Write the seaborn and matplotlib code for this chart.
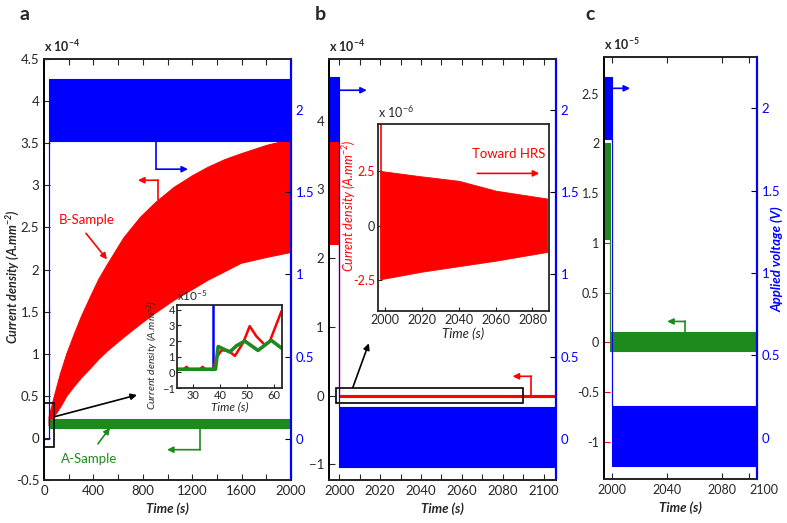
import matplotlib
matplotlib.use("Agg")
import matplotlib.pyplot as plt
import seaborn as sns
from matplotlib.patches import Rectangle

sns.set_style("ticks")
plt.rcParams["font.family"] = ["Lato", "DejaVu Sans"]
plt.rcParams["mathtext.default"] = "regular"
plt.rcParams["xtick.direction"] = "in"
plt.rcParams["ytick.direction"] = "in"
plt.rcParams["axes.linewidth"] = 1.3

RED = "#ff0000"
BLUE = "#0000ff"
GREEN = "#1e8a1e"

# ---- panel a: envelopes (x1e-4 A/mm2, V) ----
a_red_t = [37, 80, 130, 180, 237, 300, 372, 440, 512, 642, 780, 900, 1049,
           1200, 1325, 1460, 1593, 1800, 2000]
a_red_hi = [0.25, 0.5, 0.77, 1.0, 1.22, 1.45, 1.68, 1.89, 2.07, 2.38, 2.63,
            2.8, 2.98, 3.12, 3.22, 3.31, 3.38, 3.48, 3.55]
a_red_lo = [0.15, 0.26, 0.37, 0.5, 0.61, 0.72, 0.83, 0.94, 1.04, 1.2, 1.36,
            1.49, 1.64, 1.77, 1.88, 1.98, 2.08, 2.15, 2.21]
a_green_t = [37, 2000]
a_green_hi = [0.22, 0.22]
a_green_lo = [0.12, 0.12]
a_volt_t = [0, 37, 37, 2000]
a_volt_hi = [0, 0, 2.19, 2.19]
a_volt_lo = [0, 0, 1.81, 1.81]

# inset of a (x1e-5)
ins_a_red_t = [24, 26.5, 27.5, 28.5, 32.5, 33.5, 34.5, 37.2, 38.9, 40.5, 43, 45.5, 48.6, 51, 53.5, 56.6, 58.5, 62.8]
ins_a_red_v = [0.2, 0.2, 0.35, 0.2, 0.2, 0.35, 0.2, 0.15, 1.0, 1.4, 1.4, 1.05, 1.9, 2.95, 2.3, 1.75, 2.0, 3.9]
ins_a_green_t = [24, 38.3, 39.3, 43.6, 46.1, 49.2, 54.1, 59, 62.8]
ins_a_green_v = [0.2, 0.2, 1.65, 1.3, 1.7, 2.0, 1.4, 2.05, 1.55]
ins_a_blue_t = [24, 37.5, 37.5]
ins_a_blue_v = [0.2, 0.2, 5.0]

# ---- panel b ----
b_red_t = [1995, 2000, 2000, 2106]
b_red_hi = [3.72, 3.72, 0.015, 0.015]
b_red_lo = [2.21, 2.21, -0.015, -0.015]
b_volt_t = [1995, 2000, 2000, 2106]
b_volt_hi = [2.2, 2.2, 0.195, 0.195]
b_volt_lo = [1.81, 1.81, -0.17, -0.17]

# inset of b (x1e-6)
ins_b_t = [1997.3, 2020, 2040, 2060, 2088]
ins_b_hi = [2.5, 2.25, 2.05, 1.6, 1.24]
ins_b_lo = [-2.45, -2.1, -1.85, -1.6, -1.2]
ins_b_spike_t = 1997.6

# ---- panel c (x1e-5) ----
c_green_t = [1994, 1998.5, 1998.5, 2106]
c_green_hi = [2.01, 2.01, 0.1, 0.1]
c_green_lo = [1.04, 1.04, -0.09, -0.09]
c_volt_t = [1994, 2000, 2000, 2106]
c_volt_hi = [2.19, 2.19, 0.195, 0.195]
c_volt_lo = [1.81, 1.81, -0.17, -0.17]

volt_ticks = [0, 0.5, 1, 1.5, 2]
volt_lim = (-0.25, 2.31)

fig = plt.figure(figsize=(7.87, 5.23), dpi=100)


def fmt(v):
    return f"{v:g}"


def right_axis(ax):
    ax2 = ax.twinx()
    ax2.set_ylim(*volt_lim)
    ax2.set_yticks(volt_ticks)
    ax2.set_yticklabels([fmt(v) for v in volt_ticks])
    ax2.tick_params(axis="y", direction="in", labelcolor=BLUE, color="black",
                    labelsize=9.5, length=4)
    ax2.spines["right"].set_color(BLUE)
    ax2.spines["right"].set_linewidth(1.6)
    ax2.spines["left"].set_color("black")
    return ax2


def band(ax, t, lo, hi, color, lw=0.8):
    ax.fill_between(t, lo, hi, color=color, lw=lw, edgecolor=color)


def bent_arrow(ax, x0, y0, y1, x1, color):
    ax.plot([x0, x0], [y0, y1], color=color, lw=1.2)
    ax.annotate("", xy=(x1, y1), xytext=(x0, y1),
                arrowprops=dict(arrowstyle="-|>", color=color, lw=1.2,
                                mutation_scale=9, shrinkA=0, shrinkB=0))


def straight_arrow(ax, x0, y0, x1, y1, color):
    ax.annotate("", xy=(x1, y1), xytext=(x0, y0),
                arrowprops=dict(arrowstyle="-|>", color=color, lw=1.2,
                                mutation_scale=9, shrinkA=0, shrinkB=0))


# ================= panel a =================
ax_a = fig.add_axes([0.0559, 0.0822, 0.3139, 0.805])
band(ax_a, a_red_t, a_red_lo, a_red_hi, RED)
band(ax_a, a_green_t, a_green_lo, a_green_hi, GREEN)
ax_a.set_xlim(0, 2000)
ax_a.set_ylim(-0.5, 4.5)
yt = [-0.5, 0, 0.5, 1, 1.5, 2, 2.5, 3, 3.5, 4, 4.5]
ax_a.set_yticks(yt)
ax_a.set_yticklabels([fmt(v) for v in yt])
xt = list(range(0, 2001, 200))
ax_a.set_xticks(xt)
ax_a.set_xticklabels([str(v) if v % 400 == 0 else "" for v in xt])
ax_a.tick_params(top=True, labelsize=9.5, length=4)
ax_a.set_xlabel("Time (s)", fontweight="bold", style="italic", fontsize=9.5)
ax_a.set_ylabel("Current density (A.mm$^{-2}$)", fontweight="bold",
                style="italic", fontsize=9, va="center")
ax_a.yaxis.set_label_coords(-0.125, 0.482)
ax_a.text(0, 1.012, "x 10$^{-4}$", transform=ax_a.transAxes, fontsize=9,
          fontweight="bold", va="bottom", ha="left")
ax_a.add_patch(Rectangle((0, -0.11), 81, 0.52, fill=False, ec="black",
                         lw=1.2, clip_on=False, zorder=5))
straight_arrow(ax_a, 81, 0.25, 753, 0.51, "black")
bent_arrow(ax_a, 923, 2.83, 3.06, 761, RED)
bent_arrow(ax_a, 1263, 0.12, -0.14, 996, GREEN)
ax_a.text(348, 2.59, "B-Sample", color=RED, fontsize=9.5, ha="center", va="center")
straight_arrow(ax_a, 340, 2.43, 510, 2.12, RED)
ax_a.text(364, -0.25, "A-Sample", color=GREEN, fontsize=9.5, ha="center", va="center")
straight_arrow(ax_a, 437, -0.07, 534, 0.12, GREEN)

ax_a2 = right_axis(ax_a)
band(ax_a2, a_volt_t, a_volt_lo, a_volt_hi, BLUE)
bent_arrow(ax_a2, 907, 1.85, 1.64, 1166, BLUE)

# inset of a
ins_a = fig.add_axes([0.2249, 0.2581, 0.1334, 0.1587])
sns.lineplot(x=ins_a_blue_t, y=ins_a_blue_v, ax=ins_a, color=BLUE, lw=1.8,
             estimator=None, sort=False)
sns.lineplot(x=ins_a_red_t, y=ins_a_red_v, ax=ins_a, color=RED, lw=1.8,
             estimator=None, sort=False)
sns.lineplot(x=ins_a_green_t, y=ins_a_green_v, ax=ins_a, color=GREEN, lw=2.6,
             estimator=None, sort=False)
ins_a.set_xlim(24, 63)
ins_a.set_ylim(-1, 4.3)
ins_a.set_xticks([30, 40, 50, 60])
ins_a.set_yticks([-1, 0, 1, 2, 3, 4])
ins_a.tick_params(labelsize=8, length=3, pad=1.5)
ins_a.set_xlabel("Time (s)", style="italic", fontsize=8.5, labelpad=0)
ins_a.set_ylabel("Current density (A.mm$^{-2}$)", style="italic",
                 fontsize=7.5, va="center")
ins_a.yaxis.set_label_coords(-0.235, 0.4)
ins_a.text(0, 1.02, "x10$^{-5}$", transform=ins_a.transAxes, fontsize=8.5,
           va="bottom", ha="left")

# ================= panel b =================
ax_b = fig.add_axes([0.418, 0.0822, 0.2884, 0.805])
band(ax_b, b_red_t, b_red_lo, b_red_hi, RED)
ax_b.set_xlim(1995, 2106)
ax_b.set_ylim(-1.23, 4.9)
ax_b.set_yticks([-1, 0, 1, 2, 3, 4])
xt_b = list(range(2000, 2101, 10))
ax_b.set_xticks(xt_b)
ax_b.set_xticklabels([str(v) if v % 20 == 0 else "" for v in xt_b])
ax_b.tick_params(top=True, labelsize=9.5, length=4)
ax_b.set_xlabel("Time (s)", fontweight="bold", style="italic", fontsize=9.5)
ax_b.text(0, 1.012, "x 10$^{-4}$", transform=ax_b.transAxes, fontsize=9,
          fontweight="bold", va="bottom", ha="left")
ax_b.add_patch(Rectangle((1998.4, -0.116), 91.6, 0.232, fill=False,
                         ec="black", lw=1.2, zorder=5))
straight_arrow(ax_b, 2006.7, 0.12, 2014.5, 0.76, "black")
bent_arrow(ax_b, 2094, 0, 0.28, 2084.8, RED)

ax_b2 = right_axis(ax_b)
band(ax_b2, b_volt_t, b_volt_lo, b_volt_hi, BLUE)
straight_arrow(ax_b2, 2000, 2.12, 2013.5, 2.12, BLUE)

# inset of b
ins_b = fig.add_axes([0.4803, 0.4054, 0.2173, 0.3576])
band(ins_b, ins_b_t, ins_b_lo, ins_b_hi, RED, lw=0.6)
ins_b.vlines(ins_b_spike_t, ins_b_lo[0], 6, color=RED, lw=1.2)
ins_b.set_xlim(1996, 2089)
ins_b.set_ylim(-3.9, 4.65)
ins_b.set_xticks([2000, 2020, 2040, 2060, 2080])
ins_b.set_yticks([-2.5, 0, 2.5])
ins_b.set_yticklabels(["-2.5", "0", "2.5"])
for lab in ins_b.get_yticklabels():
    if lab.get_text() != "0":
        lab.set_color(RED)
ins_b.tick_params(labelsize=9, length=3, pad=2)
ins_b.set_xlabel("Time (s)", style="italic", fontsize=9.5, labelpad=1)
ins_b.set_ylabel("Current density (A.mm$^{-2}$)", style="italic", fontsize=9,
                 color=RED, va="center")
ins_b.yaxis.set_label_coords(-0.17, 0.56)
ins_b.text(0, 1.02, "x 10$^{-6}$", transform=ins_b.transAxes, fontsize=9,
           va="bottom", ha="left")
ins_b.text(2067, 3.26, "Toward HRS", color=RED, fontsize=9.5, ha="center", va="center")
straight_arrow(ins_b, 2050, 2.39, 2083.7, 2.39, RED)

# ================= panel c =================
ax_c = fig.add_axes([0.7675, 0.0841, 0.1944, 0.8069])
band(ax_c, c_green_t, c_green_lo, c_green_hi, GREEN)
ax_c.set_xlim(1994, 2105.5)
ax_c.set_ylim(-1.375, 2.87)
yt_c = [-1, -0.5, 0, 0.5, 1, 1.5, 2, 2.5]
ax_c.set_yticks(yt_c)
ax_c.set_yticklabels([fmt(v) for v in yt_c])
ax_c.set_xticks([2000, 2040, 2080, 2100])
ax_c.tick_params(top=True, labelsize=9, length=4)
ax_c.tick_params(axis="y", color=RED)
ax_c.get_xticklabels()[-1].set_horizontalalignment("left")
ax_c.set_xlabel("Time (s)", fontweight="bold", style="italic", fontsize=9.5)
ax_c.text(0, 1.012, "x 10$^{-5}$", transform=ax_c.transAxes, fontsize=9,
          fontweight="bold", va="bottom", ha="left")
bent_arrow(ax_c, 2053, 0.1, 0.21, 2040, GREEN)

ax_c2 = right_axis(ax_c)
band(ax_c2, c_volt_t, c_volt_lo, c_volt_hi, BLUE)
ax_c2.set_ylabel("Applied voltage (V)", color=BLUE, fontweight="bold",
                 style="italic", fontsize=9.5, va="center")
ax_c2.yaxis.set_label_coords(1.135, 0.52)
straight_arrow(ax_c2, 2000, 2.12, 2013, 2.12, BLUE)

for letter, x in [("a", 25), ("b", 320), ("c", 590)]:
    fig.text(x / 787, 1 - 15 / 523, letter, fontsize=14, fontweight="bold",
             ha="center", va="center")

fig.savefig("out.png", dpi=100)
